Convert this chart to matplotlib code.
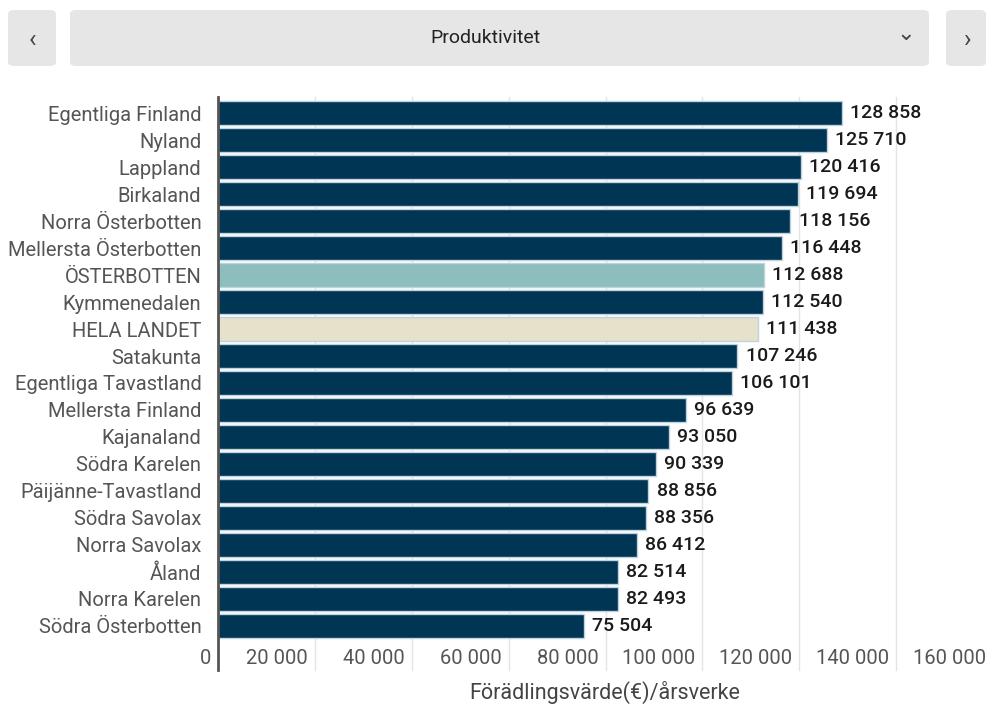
import matplotlib
matplotlib.use("Agg")
import matplotlib.pyplot as plt
from matplotlib.patches import FancyBboxPatch
from matplotlib.transforms import ScaledTranslation

plt.rcParams['font.family'] = ['Roboto', 'DejaVu Sans']

regions = ["Egentliga Finland", "Nyland", "Lappland", "Birkaland", "Norra Österbotten",
           "Mellersta Österbotten", "ÖSTERBOTTEN", "Kymmenedalen", "HELA LANDET", "Satakunta",
           "Egentliga Tavastland", "Mellersta Finland", "Kajanaland", "Södra Karelen",
           "Päijänne-Tavastland", "Södra Savolax", "Norra Savolax", "Åland", "Norra Karelen",
           "Södra Österbotten"]
values = [128858, 125710, 120416, 119694, 118156, 116448, 112688, 112540, 111438, 107246,
          106101, 96639, 93050, 90339, 88856, 88356, 86412, 82514, 82493, 75504]
x_ticks = [0, 20000, 40000, 60000, 80000, 100000, 120000, 140000, 160000]
title = "Produktivitet"
x_label = "Förädlingsvärde(€)/årsverke"

W, H = 988, 704
fig = plt.figure(figsize=(W / 100, H / 100), dpi=100)

def fx(px):
    return px / W

def fy(py):
    return 1 - py / H

# Header boxes
box_col = "#e6e6e6"
for (x0, x1) in [(8, 56), (70, 929), (946, 986)]:
    p = FancyBboxPatch((fx(x0), fy(66)), fx(x1 - x0), (66 - 10) / H,
                       boxstyle="round,pad=0,rounding_size=0.006",
                       transform=fig.transFigure, facecolor=box_col, edgecolor="none")
    fig.add_artist(p)
fig.text(fx(485), fy(38), title, ha="center", va="center", fontsize=14, color="#222222")
fig.text(fx(32), fy(40), "‹", ha="center", va="center", fontsize=18, color="#444444")
fig.text(fx(968), fy(40), "›", ha="center", va="center", fontsize=18, color="#444444")
fig.text(fx(906), fy(34), "⌄", ha="center", va="center", fontsize=16, color="#444444",
         family=['DejaVu Sans'])

# Axes
ax_left, ax_right = 218, 993
ax_top, ax_bottom = 97, 642
ax = fig.add_axes([fx(ax_left), fy(ax_bottom), fx(ax_right - ax_left), (ax_bottom - ax_top) / H])

colors = []
for r in regions:
    if r == "ÖSTERBOTTEN":
        colors.append("#8dbdbd")
    elif r == "HELA LANDET":
        colors.append("#e6e1cb")
    else:
        colors.append("#003554")

ypos = list(range(len(regions)))
ax.barh(ypos, values, height=0.89, color=colors, edgecolor="#bfd3de", linewidth=1.0, zorder=3)

ax.set_xlim(0, 160000)
ax.set_ylim(len(regions) - 0.4, -0.6)

for v in x_ticks[1:]:
    ax.axvline(v, ymin=-0.052, ymax=1, color="#e4e4e4", linewidth=1, zorder=1, clip_on=False)
ax.axvline(0, ymin=-0.052, ymax=1, color="#555555", linewidth=2, zorder=5, clip_on=False)

for y, v in zip(ypos, values):
    ax.text(v + 1700, y, f"{v:,}".replace(",", " "), va="center", ha="left",
            fontsize=14, color="#1a1a1a", fontweight="medium", zorder=6)

ax.set_yticks(ypos)
ax.set_yticklabels(regions, fontsize=14.5, color="#555555")
ax.tick_params(axis="y", length=0, pad=12)

ax.set_xticks(x_ticks)
ax.set_xticklabels([f"{v:,}".replace(",", " ") for v in x_ticks], fontsize=14.5, color="#555555")
ax.tick_params(axis="x", length=0, pad=5)
off = ScaledTranslation(-7 / 100, 0, fig.dpi_scale_trans)
for lab in ax.get_xticklabels():
    lab.set_horizontalalignment("right")
    lab.set_transform(lab.get_transform() + off)

for s in ax.spines.values():
    s.set_visible(False)

fig.text(fx(605), fy(692), x_label, ha="center", va="center", fontsize=15.5, color="#444444")

fig.savefig("out.png", dpi=100)
